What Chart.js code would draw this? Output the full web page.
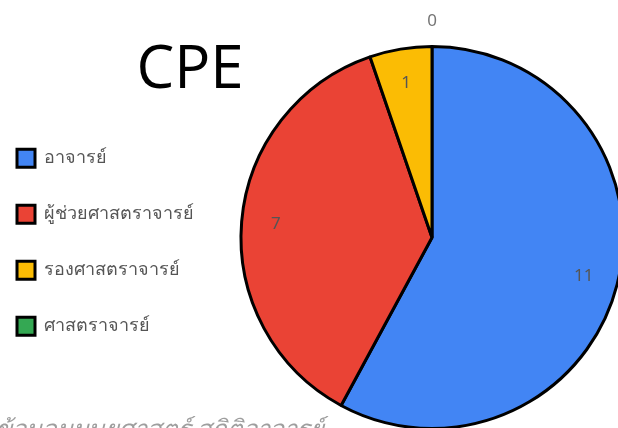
<!DOCTYPE html>
<html>
<head>
<meta charset="utf-8">
<script src="https://cdn.jsdelivr.net/npm/chart.js@4.4.0/dist/chart.umd.min.js"></script>
<style>
  html, body { margin: 0; padding: 0; background: #fff; }
  #frame { width: 618px; height: 428px; overflow: hidden; position: relative; }
  #wrap { width: 680px; height: 440px; position: absolute; left: 0; top: 0; }
</style>
</head>
<body>
<div id="frame">
  <div id="wrap"><canvas id="chart"></canvas></div>
</div>
<script>
// DATA
const titleText = 'CPE';
const captionText = 'ข้อมูลมนุษยศาสตร์ สถิติอาจารย์';
const positions = ['อาจารย์', 'ผู้ช่วยศาสตราจารย์', 'รองศาสตราจารย์', 'ศาสตราจารย์'];
const counts = [11, 7, 1, 0];
const sliceColors = ['#4285F4', '#EA4335', '#FBBC04', '#34A853'];

// draws the title, the cut off caption and the numbers on the slices
const extraText = {
    id: 'extraText',
    afterDraw(chart) {
        const ctx = chart.ctx;
        ctx.save();
        ctx.fillStyle = '#000';
        ctx.font = '60px "Open Sans", "Noto Sans", sans-serif';
        ctx.textAlign = 'center';
        ctx.textBaseline = 'alphabetic';
        ctx.fillText(titleText, 190, 88);

        ctx.fillStyle = '#9e9e9e';
        ctx.font = 'italic 24px "Noto Sans", sans-serif';
        ctx.textAlign = 'left';
        ctx.fillText(captionText, -4, 437);

        const meta = chart.getDatasetMeta(0);
        ctx.textAlign = 'center';
        ctx.textBaseline = 'middle';
        meta.data.forEach((arc, i) => {
            const p = arc.getProps(['x', 'y', 'startAngle', 'endAngle', 'outerRadius'], true);
            const mid = (p.startAngle + p.endAngle) / 2;
            const v = counts[i];
            let r = p.outerRadius * 0.82;
            ctx.fillStyle = '#555';
            ctx.font = '17px "Noto Sans", sans-serif';
            if (v === 0) {
                r = p.outerRadius + 25;
                ctx.fillStyle = '#757575';
            }
            ctx.fillText(String(v), p.x + Math.cos(mid) * r, p.y + Math.sin(mid) * r);
        });
        ctx.restore();
    }
};

const ctx = document.getElementById('chart').getContext('2d');
new Chart(ctx, {
    type: 'pie',
    data: {
        labels: positions,
        datasets: [{
            data: counts,
            backgroundColor: sliceColors,
            borderColor: '#000',
            borderWidth: 3,
        }]
    },
    options: {
        responsive: true,
        maintainAspectRatio: false,
        animation: false,
        layout: {
            padding: { top: 45, bottom: 10, left: -21, right: 20 }
        },
        plugins: {
            legend: {
                position: 'left',
                title: {
                    display: true,
                    text: ' ',
                    padding: 0,
                    font: { size: 8 },
                },
                labels: {
                    boxWidth: 18,
                    boxHeight: 18,
                    padding: 38,
                    color: '#555',
                    font: { size: 18, family: '"Noto Sans", sans-serif' },
                }
            },
            tooltip: { enabled: false },
            title: { display: false },
        }
    },
    plugins: [extraText]
});
</script>
</body>
</html>
